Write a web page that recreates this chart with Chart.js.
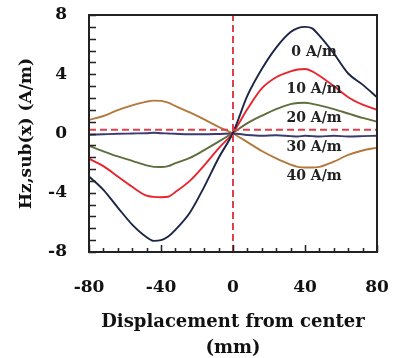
<!DOCTYPE html>
<html>
<head>
<meta charset="utf-8">
<script src="https://cdn.jsdelivr.net/npm/chart.js@4/dist/chart.umd.min.js"></script>
<style>
html,body{margin:0;padding:0;background:#fff;}
#wrap{width:395px;height:358px;position:relative;}
</style>
</head>
<body>
<div id="wrap"><canvas id="c" width="395" height="358"></canvas></div>
<script>
// ---- data ----
const xValues = [-80,-72,-64,-56,-48,-44,-40,-36,-32,-24,-16,-8,0,8,16,24,32,36,40,44,48,56,64,72,80];
const seriesLabels = ['0 A/m','10 A/m','20 A/m','30 A/m','40 A/m'];
const h0  = [-2.9,-3.8,-5.0,-6.15,-7.0,-7.25,-7.2,-6.95,-6.5,-5.35,-3.6,-1.65,0.05,2.55,4.35,5.8,6.85,7.12,7.2,7.1,6.6,5.4,4.05,3.3,2.45];
const h10 = [-1.7,-2.2,-2.9,-3.6,-4.2,-4.28,-4.3,-4.27,-3.95,-3.2,-2.15,-1.0,0.05,1.65,3.05,3.8,4.2,4.32,4.35,4.2,3.9,3.2,2.45,1.95,1.6];
const h20 = [-0.82,-1.2,-1.55,-1.85,-2.15,-2.25,-2.26,-2.2,-2.0,-1.65,-1.12,-0.55,0.05,0.7,1.2,1.65,1.98,2.06,2.08,2.0,1.9,1.65,1.35,1.05,0.8];
const h30 = [-0.08,-0.05,-0.02,0.0,0.02,0.05,0.02,0.0,-0.02,-0.05,-0.05,-0.03,0.0,-0.1,-0.15,-0.12,-0.18,-0.2,-0.15,-0.18,-0.2,-0.15,-0.2,-0.18,-0.15];
const h40 = [0.92,1.18,1.58,1.9,2.15,2.22,2.2,2.08,1.85,1.42,0.95,0.45,0.0,-0.58,-1.18,-1.68,-2.1,-2.25,-2.3,-2.3,-2.25,-1.9,-1.45,-1.15,-0.95];
const xTickLabels = [-80,-40,0,40,80];
const yTickLabels = [-8,-4,0,4,8];
const refLineX = 0;      // vertical dashed reference
const refLineY = 0.25;   // horizontal dashed reference
const labelYValues = [5.45,2.95,1.05,-0.95,-2.9];
const labelXValue = 45;

const colors = ['#1c2546','#e8252d','#5f6e3d','#3b3a70','#b5783c'];
const series = [h0,h10,h20,h30,h40];

const FONT = "'DejaVu Serif', serif";

const datasets = series.map((s,i)=>({
  label: seriesLabels[i],
  data: xValues.map((x,j)=>({x:x,y:s[j]})),
  borderColor: colors[i],
  borderWidth: 1.9,
  pointRadius: 0,
  cubicInterpolationMode: 'monotone',
  fill: false,
  order: 2
}));
datasets.push({
  label:'refV',
  data:[{x:refLineX,y:yTickLabels[0]},{x:refLineX,y:yTickLabels[yTickLabels.length-1]}],
  borderColor:'#e0404e', borderWidth:2, borderDash:[7,4], pointRadius:0, order:1
});
datasets.push({
  label:'refH',
  data:[{x:xTickLabels[0],y:refLineY},{x:xTickLabels[xTickLabels.length-1],y:refLineY}],
  borderColor:'#e0404e', borderWidth:2, borderDash:[7,4], pointRadius:0, order:1
});

const framePlugin = {
  id:'frame',
  afterDatasetsDraw(chart){
    const {ctx, chartArea:a, scales:{x,y}} = chart;
    ctx.save();
    ctx.strokeStyle = '#222';
    ctx.lineWidth = 2;
    ctx.strokeRect(a.left, a.top, a.right-a.left, a.bottom-a.top);
    ctx.lineWidth = 1.5;
    ctx.beginPath();
    for (let v = xTickLabels[0]; v <= xTickLabels[xTickLabels.length-1] + 1e-6; v += 8) {
      const px = Math.round(x.getPixelForValue(v)) + 0.5;
      const major = Math.abs(v % 40) < 1e-6;
      ctx.moveTo(px, a.bottom);
      ctx.lineTo(px, a.bottom - (major ? 7 : 4));
    }
    for (let k = 0; k <= 20; k++) {
      const v = yTickLabels[0] + k*0.8;
      const py = Math.round(y.getPixelForValue(v)) + 0.5;
      ctx.moveTo(a.left, py);
      ctx.lineTo(a.left + 7, py);
    }
    ctx.stroke();
    // series labels
    ctx.fillStyle = '#222';
    ctx.font = "bold 14px " + FONT;
    ctx.textAlign = 'center';
    ctx.textBaseline = 'middle';
    seriesLabels.forEach((t,i)=>{
      ctx.fillText(t, x.getPixelForValue(labelXValue), y.getPixelForValue(labelYValues[i]));
    });
    ctx.restore();
  }
};

new Chart(document.getElementById('c'), {
  type:'line',
  data:{datasets},
  options:{
    responsive:false,
    animation:false,
    events:[],
    layout:{padding:{top:15,right:18,left:0,bottom:0}},
    plugins:{legend:{display:false},tooltip:{enabled:false}},
    scales:{
      x:{
        type:'linear', min:-80, max:80,
        grid:{display:false}, border:{display:false},
        ticks:{stepSize:40, color:'#111', padding:17, font:{family:FONT, size:17, weight:'bold'}},
        afterFit(s){ s.height = 106; s.paddingLeft = 0; s.paddingRight = 0; },
        title:{display:true, text:['Displacement from center','(mm)'], color:'#111',
               font:{family:FONT, size:18, weight:'bold', lineHeight:1.45}, padding:{top:0,bottom:-3}}
      },
      y:{
        type:'linear', min:-8, max:8,
        grid:{display:false}, border:{display:false},
        ticks:{stepSize:4, color:'#111', padding:14, font:{family:FONT, size:17, weight:'bold'}},
        afterFit(s){ s.width = 89; s.paddingTop = 0; s.paddingBottom = 0; },
        title:{display:true, text:'Hz,sub(x) (A/m)', color:'#111',
               font:{family:FONT, size:17, weight:'bold'}, padding:{top:16,bottom:0}}
      }
    }
  },
  plugins:[framePlugin]
});
</script>
</body>
</html>
